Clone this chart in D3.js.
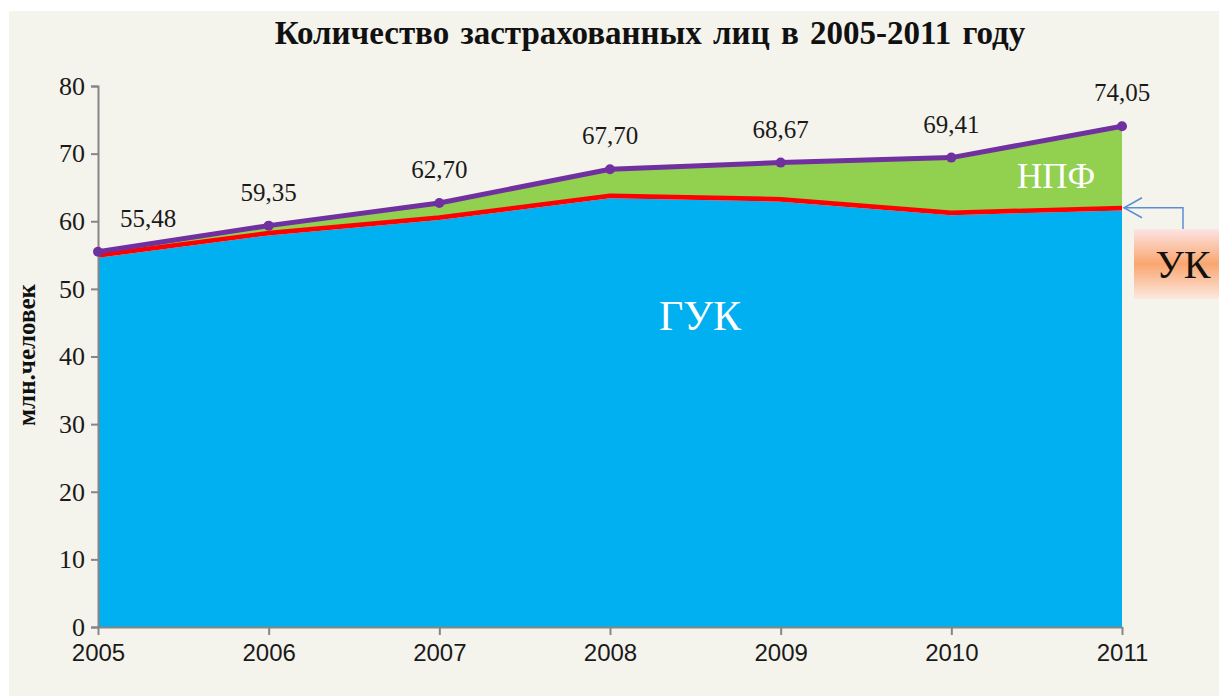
<!DOCTYPE html>
<html>
<head>
<meta charset="utf-8">
<script src="https://cdn.jsdelivr.net/npm/d3@7"></script>
<style>
    body { margin: 0; background: #ffffff; }
    svg { display: block; }
</style>
</head>
<body>
<div id="chart"></div>
<script>
const years = [2005, 2006, 2007, 2008, 2009, 2010, 2011]
const total = [55.48, 59.35, 62.70, 67.70, 68.67, 69.41, 74.05]
const guk = [54.6, 57.9, 60.2, 63.4, 62.9, 60.9, 61.6]
const uk = [0.4, 0.4, 0.4, 0.4, 0.4, 0.4, 0.4]
const npf = [0.48, 1.05, 2.10, 3.90, 5.37, 8.11, 12.05]
const yTicks = [0, 10, 20, 30, 40, 50, 60, 70, 80]

const W = 1219, H = 698
const margin = {top: 86, right: 97, bottom: 71, left: 98}
const width = W - margin.left - margin.right
const height = H - margin.top - margin.bottom

const svg = d3.select("#chart")
    .append("svg")
        .attr("width", W)
        .attr("height", H)

// panel background
svg.append("rect")
    .attr("x", 9).attr("y", 11)
    .attr("width", W - 9).attr("height", H - 13)
    .attr("fill", "#f4f3ec")

svg.append("text")
    .attr("x", 650).attr("y", 44)
    .attr("text-anchor", "middle")
    .style("font-family", "Liberation Serif")
    .style("font-weight", "bold")
    .style("font-size", "33px")
    .style("word-spacing", "3px")
    .attr("fill", "#111")
    .text("Количество застрахованных лиц в 2005-2011 году")

const g = svg.append("g")
    .attr("transform", `translate(${margin.left}, ${margin.top})`)

const x = d3.scalePoint()
    .domain(years)
    .range([0, width])

const y = d3.scaleLinear()
    .domain([0, 80])
    .range([height, 0])

const rows = years.map((yr, i) => ({year: yr, guk: guk[i], uk: uk[i], npf: npf[i]}))
const stacked = d3.stack().keys(["guk", "uk", "npf"])(rows)
const colors = {guk: "#00b0f0", uk: "#ff0000", npf: "#92d050"}

const area = d3.area()
    .x(d => x(d.data.year))
    .y0(d => y(d[0]))
    .y1(d => y(d[1]))

g.selectAll("path.layer")
    .data(stacked)
    .enter()
    .append("path")
        .attr("class", "layer")
        .attr("d", area)
        .attr("fill", d => colors[d.key])

// red line on top of УК
const ukTop = d3.line()
    .x(d => x(d.data.year))
    .y(d => y(d[1]))
g.append("path")
    .attr("d", ukTop(stacked[1]))
    .attr("fill", "none")
    .attr("stroke", "#ff0000")
    .attr("stroke-width", 4)

// axes
const yAxis = g.append("g")
    .call(d3.axisLeft(y).tickValues(yTicks).tickSize(7).tickPadding(6))
yAxis.select(".domain").attr("stroke", "#868686").attr("stroke-width", 2)
yAxis.selectAll(".tick line").attr("stroke", "#868686").attr("stroke-width", 2)
yAxis.selectAll("text")
    .style("font-family", "Liberation Serif")
    .style("font-size", "26px")
    .attr("fill", "#1a1a1a")

const xAxis = g.append("g")
    .attr("transform", `translate(0, ${height})`)
    .call(d3.axisBottom(x).tickSize(8).tickPadding(9).tickSizeOuter(0))
xAxis.select(".domain").attr("stroke", "#868686").attr("stroke-width", 2)
xAxis.selectAll(".tick line").attr("stroke", "#868686").attr("stroke-width", 2)
xAxis.selectAll("text")
    .style("font-family", "Liberation Sans")
    .style("font-size", "24px")
    .attr("fill", "#1a1a1a")

// total line
const totalLine = d3.line()
    .x((d, i) => x(years[i]))
    .y(d => y(d))
g.append("path")
    .attr("d", totalLine(total))
    .attr("fill", "none")
    .attr("stroke", "#7030a0")
    .attr("stroke-width", 5)
g.selectAll("circle.pt")
    .data(total)
    .enter()
    .append("circle")
        .attr("class", "pt")
        .attr("cx", (d, i) => x(years[i]))
        .attr("cy", d => y(d))
        .attr("r", 5)
        .attr("fill", "#7030a0")

const fmt = d3.formatLocale({decimal: ",", thousands: " ", grouping: [3], currency: ["", ""]}).format(".2f")
g.selectAll("text.lbl")
    .data(total)
    .enter()
    .append("text")
        .attr("class", "lbl")
        .attr("x", (d, i) => x(years[i]) + (i === 0 ? 50 : 0))
        .attr("y", d => y(d) - 25)
        .attr("text-anchor", "middle")
        .style("font-family", "Liberation Serif")
        .style("font-size", "25px")
        .attr("fill", "#1a1a1a")
        .text(d => fmt(d))

// series labels
g.append("text")
    .attr("x", 602).attr("y", 244)
    .attr("text-anchor", "middle")
    .style("font-family", "Liberation Serif")
    .style("font-size", "42px")
    .attr("fill", "#ffffff")
    .text("ГУК")
g.append("text")
    .attr("x", 958).attr("y", 102)
    .attr("text-anchor", "middle")
    .style("font-family", "Liberation Serif")
    .style("font-size", "35px")
    .attr("fill", "#ffffff")
    .text("НПФ")

// УК callout
const grad = svg.append("defs").append("linearGradient")
    .attr("id", "ukGrad").attr("x1", 0).attr("y1", 0).attr("x2", 0).attr("y2", 1)
grad.append("stop").attr("offset", "0%").attr("stop-color", "#fde4e4")
grad.append("stop").attr("offset", "50%").attr("stop-color", "#f9a66f")
grad.append("stop").attr("offset", "100%").attr("stop-color", "#fde8e0")
svg.append("rect")
    .attr("x", 1134).attr("y", 229)
    .attr("width", 85).attr("height", 70)
    .attr("fill", "url(#ukGrad)")
svg.append("text")
    .attr("x", 1183).attr("y", 278)
    .attr("text-anchor", "middle")
    .style("font-family", "Liberation Serif")
    .style("font-size", "40px")
    .attr("fill", "#111")
    .text("УК")

const ax = margin.left + x(2011), ay = margin.top + y(guk[6] + uk[6])
svg.append("path")
    .attr("d", `M1183,229 V${ay} H${ax + 2}`)
    .attr("fill", "none")
    .attr("stroke", "#5b8ed6")
    .attr("stroke-width", 1.5)
svg.append("path")
    .attr("d", `M${ax + 20},${ay - 10} L${ax + 2},${ay} L${ax + 20},${ay + 10}`)
    .attr("fill", "none")
    .attr("stroke", "#5b8ed6")
    .attr("stroke-width", 1.5)

// y axis title
svg.append("text")
    .attr("transform", "translate(35, 355) rotate(-90)")
    .attr("text-anchor", "middle")
    .style("font-family", "Liberation Serif")
    .style("font-weight", "bold")
    .style("font-size", "25px")
    .attr("fill", "#111")
    .text("млн.человек")
</script>
</body>
</html>
